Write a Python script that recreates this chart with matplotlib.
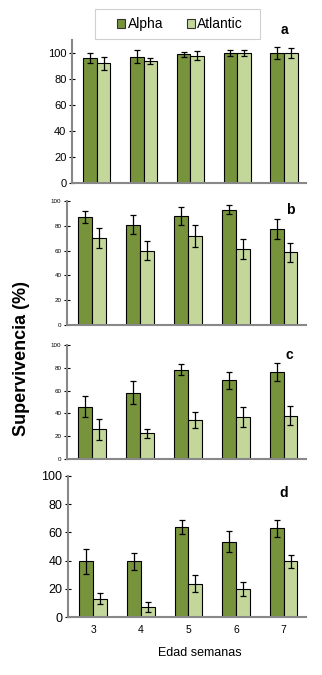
import matplotlib
matplotlib.use("Agg")
import matplotlib.pyplot as plt
from matplotlib.patches import Patch, Rectangle

plt.rcParams['font.family'] = ['Liberation Sans', 'DejaVu Sans']

# Edad (semanas)
semanas = ['3', '4', '5', '6', '7']

# Supervivencia (%) por panel: Alpha y Atlantic, con su error
alpha_a = [96, 97, 99, 100, 100]
alpha_a_err = [4, 5, 2, 2.5, 4.5]
atlantic_a = [92, 94, 98, 100, 100]
atlantic_a_err = [5, 2.5, 3.5, 2.5, 3.5]

alpha_b = [87, 81, 88, 93, 77.5]
alpha_b_err = [5, 8, 7, 3.5, 8]
atlantic_b = [70, 60, 71.5, 61, 58.5]
atlantic_b_err = [8, 7.5, 9, 8, 8]

alpha_c = [46, 58, 78.5, 69, 76]
alpha_c_err = [9, 10, 4.5, 7.5, 8]
atlantic_c = [26, 22.5, 34.5, 37, 38]
atlantic_c_err = [9, 4, 7, 9, 8.5]

alpha_d = [39.5, 39.5, 64, 53.5, 63]
alpha_d_err = [9, 6, 5, 7.5, 6]
atlantic_d = [13, 7, 23.5, 20, 39.5]
atlantic_d_err = [4, 3.5, 6, 5, 4.5]

paneles = ['a', 'b', 'c', 'd']
alpha_vals = [alpha_a, alpha_b, alpha_c, alpha_d]
alpha_errs = [alpha_a_err, alpha_b_err, alpha_c_err, alpha_d_err]
atlantic_vals = [atlantic_a, atlantic_b, atlantic_c, atlantic_d]
atlantic_errs = [atlantic_a_err, atlantic_b_err, atlantic_c_err, atlantic_d_err]

color_alpha = '#77933C'
color_atlantic = '#C4D79B'
color_eje = '#888888'

W, H = 322, 675
# posiciones de los ejes en pixeles: (izq, der, y_cero, y_tope)
cajas = [(72, 306, 183, 40), (67, 306, 325, 201), (67, 306, 459, 345), (68, 306, 617, 476)]
ymax = [110, 100, 100, 100]
tick_size = [8, 4.5, 4.5, 9]
# letra del panel: (x, y, alineacion vertical)
letras = [(4.0, 112.5, 'bottom'), (4.15, 98, 'top'), (4.13, 97, 'top'), (4.0, 93, 'top')]

fig = plt.figure(figsize=(W / 100, H / 100), dpi=100)

x = list(range(len(semanas)))
ancho = 0.29

for i, p in enumerate(paneles):
    l, r, y0, yt = cajas[i]
    ax = fig.add_axes([l / W, 1 - y0 / H, (r - l) / W, (y0 - yt) / H])
    ax.bar([v - ancho / 2 for v in x], alpha_vals[i], ancho, color=color_alpha,
           edgecolor='black', linewidth=0.8, yerr=alpha_errs[i], capsize=2.5,
           error_kw=dict(elinewidth=0.9, capthick=0.9, ecolor='black'), zorder=2)
    ax.bar([v + ancho / 2 for v in x], atlantic_vals[i], ancho, color=color_atlantic,
           edgecolor='black', linewidth=0.8, yerr=atlantic_errs[i], capsize=2.5,
           error_kw=dict(elinewidth=0.9, capthick=0.9, ecolor='black'), zorder=2)
    ax.set_xlim(-0.53, 4.47)
    ax.set_ylim(0, ymax[i])
    ax.set_yticks([0, 20, 40, 60, 80, 100])
    ax.tick_params(axis='y', direction='inout', length=4, width=0.8,
                   color='black', labelsize=tick_size[i], pad=2)
    for s in ['top', 'right']:
        ax.spines[s].set_visible(False)
    for s in ['left', 'bottom']:
        ax.spines[s].set_color(color_eje)
        ax.spines[s].set_linewidth(1.5)
    if p == 'd':
        ax.set_xticks(x)
        ax.set_xticklabels(semanas)
        ax.tick_params(axis='x', length=0, labelsize=7.5, pad=6)
    else:
        ax.set_xticks([])
    lx, ly, va = letras[i]
    ax.text(lx, ly, p, fontsize=10, fontweight='bold', ha='center', va=va,
            clip_on=False)

fig.text(22 / W, 1 - 359 / H, 'Supervivencia (%)', rotation=90, fontsize=13,
         fontweight='bold', ha='center', va='center')
fig.text(200 / W, 1 - 653 / H, 'Edad semanas', fontsize=9, ha='center', va='center')

# recuadro de la leyenda
fig.patches.append(Rectangle((95 / W, 1 - 39 / H), 165 / W, 30 / H,
                             transform=fig.transFigure, facecolor='white',
                             edgecolor='#d0d0d0', linewidth=0.8))
handles = [Patch(facecolor=color_alpha, edgecolor='#333333', linewidth=0.8),
           Patch(facecolor=color_atlantic, edgecolor='#333333', linewidth=0.8)]
leg = fig.legend(handles, ['Alpha', 'Atlantic'], loc='center',
                 bbox_to_anchor=(180 / W, 1 - 24 / H), ncol=2, fontsize=10,
                 frameon=False, handlelength=0.6, handleheight=0.6,
                 handletextpad=0.15, columnspacing=1.7)

fig.savefig('out.png', dpi=100)
